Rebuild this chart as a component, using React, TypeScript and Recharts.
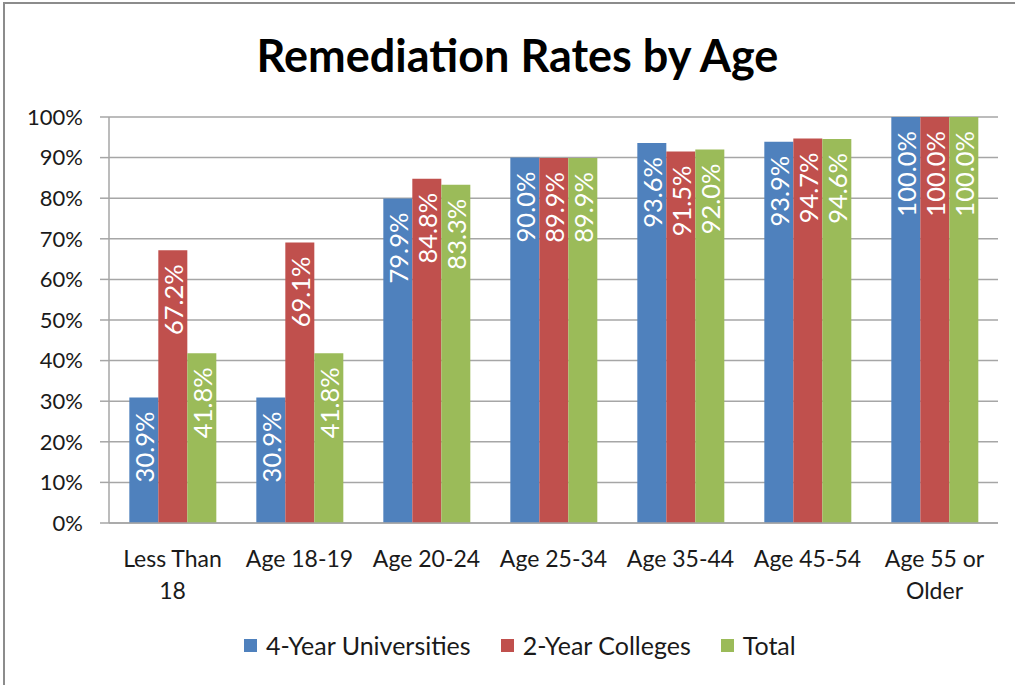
import {
  BarChart,
  Bar,
  XAxis,
  YAxis,
  CartesianGrid,
  LabelList,
} from 'recharts';

const categories = [
  'Less Than\n18',
  'Age 18-19',
  'Age 20-24',
  'Age 25-34',
  'Age 35-44',
  'Age 45-54',
  'Age 55 or\nOlder',
];
const universities = [30.9, 30.9, 79.9, 90.0, 93.6, 93.9, 100.0];
const colleges = [67.2, 69.1, 84.8, 89.9, 91.5, 94.7, 100.0];
const total = [41.8, 41.8, 83.3, 89.9, 92.0, 94.6, 100.0];
const yTicks = [0, 10, 20, 30, 40, 50, 60, 70, 80, 90, 100];
const edgeTicks = [0, 1, 2, 3, 4, 5, 6, 7];

const series = [
  { key: 'uni', name: '4-Year Universities', color: '#4F81BD', values: universities },
  { key: 'col', name: '2-Year Colleges', color: '#C0504D', values: colleges },
  { key: 'tot', name: 'Total', color: '#9BBB59', values: total },
];

const data = categories.map((c, i) => ({
  name: c,
  uni: universities[i],
  col: colleges[i],
  tot: total[i],
}));

const FONT = 'Lato, "Liberation Sans", sans-serif';
const GRID = '#A6A6A6';
const TEXT = '#1a1a1a';

const ValueLabel = (props: any) => {
  const { x, y, width, value } = props;
  const cx = x + width / 2;
  const ty = y + 14;
  return (
    <text
      x={cx}
      y={ty}
      fill="#fff"
      fontSize={25.5}
      fontFamily={FONT}
      textAnchor="end"
      dominantBaseline="central"
      transform={`rotate(-90, ${cx}, ${ty})`}
    >
      {Number(value).toFixed(1)}%
    </text>
  );
};

const CategoryTick = (props: any) => {
  const { x, y, payload } = props;
  const lines = String(payload.value).split('\n');
  return (
    <text x={x} y={y + 36} textAnchor="middle" fontSize={23} fontFamily={FONT} fill={TEXT}>
      {lines.map((l, i) => (
        <tspan key={i} x={x} dy={i === 0 ? 0 : 32}>
          {l}
        </tspan>
      ))}
    </text>
  );
};

export default function App() {
  return (
    <div
      style={{
        position: 'absolute',
        left: 0,
        top: 0,
        width: 1015,
        height: 685,
        background: '#fff',
        overflow: 'hidden',
        fontFamily: FONT,
      }}
    >
      <div
        style={{
          position: 'absolute',
          left: 3,
          top: 2,
          width: 1100,
          height: 800,
          borderLeft: '2px solid #8c8c8c',
          borderTop: '2px solid #8c8c8c',
        }}
      />
      <div
        style={{
          position: 'absolute',
          left: 0,
          width: 1035,
          top: 28,
          textAlign: 'center',
          fontSize: 45,
          fontWeight: 700,
          color: '#000',
        }}
      >
        Remediation Rates by Age
      </div>
      <div style={{ position: 'absolute', left: 0, top: 0 }}>
        <BarChart
          width={1015}
          height={685}
          data={data}
          margin={{ top: 117, right: 17, left: 0, bottom: 160 }}
          barCategoryGap="16%"
          barGap={0}
        >
          <CartesianGrid vertical={false} stroke={GRID} strokeWidth={1.5} />
          <XAxis
            dataKey="name"
            height={1}
            interval={0}
            tickLine={false}
            axisLine={{ stroke: GRID, strokeWidth: 1.5 }}
            tick={<CategoryTick />}
          />
          <XAxis
            xAxisId="edge"
            type="number"
            domain={[0, 7]}
            ticks={edgeTicks}
            height={1}
            tick={false}
            axisLine={false}
            tickSize={8}
            tickLine={{ stroke: GRID, strokeWidth: 1.5 }}
          />
          <YAxis
            width={109}
            domain={[0, 100]}
            ticks={yTicks}
            tickFormatter={(v) => `${v}%`}
            tickSize={9}
            tickMargin={17}
            axisLine={{ stroke: GRID, strokeWidth: 1.5 }}
            tickLine={{ stroke: GRID, strokeWidth: 1.5 }}
            tick={{ fill: TEXT, fontSize: 22, fontFamily: FONT }}
          />
          {series.map((s) => (
            <Bar key={s.key} dataKey={s.key} name={s.name} fill={s.color} isAnimationActive={false}>
              <LabelList dataKey={s.key} content={<ValueLabel />} />
            </Bar>
          ))}
        </BarChart>
      </div>
      <div
        style={{
          position: 'absolute',
          left: 244,
          top: 630,
          display: 'flex',
          gap: 30,
          fontSize: 25,
          color: TEXT,
        }}
      >
        {series.map((s) => (
          <div key={s.key} style={{ display: 'flex', alignItems: 'center' }}>
            <span
              style={{
                display: 'inline-block',
                width: 13,
                height: 13,
                background: s.color,
                marginRight: 9,
              }}
            />
            <span>{s.name}</span>
          </div>
        ))}
      </div>
    </div>
  );
}
